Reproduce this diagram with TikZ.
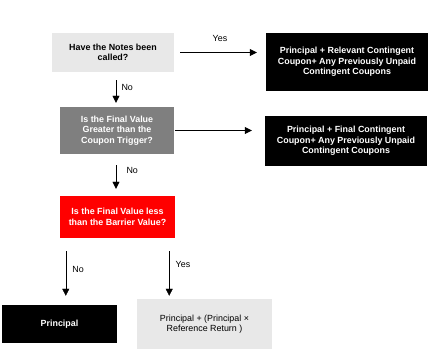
\documentclass[tikz,border=0pt]{standalone}
\usepackage{fontspec}
\setmainfont{Liberation Sans}
\usetikzlibrary{arrows.meta}
\definecolor{boxlight}{HTML}{E8E8E8}
\definecolor{boxgray}{HTML}{7F7F7F}

\tikzset{
	box/.style={inner sep=2pt, align=center, font=\fontsize{8.9}{10.4}\selectfont\bfseries},
	lightbox/.style={box, fill=boxlight, text=black},
	darkbox/.style={box, fill=black, text=white},
	arr/.style={-{Triangle[width=7pt,length=7pt]}, thin},
	lbl/.style={font=\fontsize{8.9}{10.4}\selectfont}
}

\begin{document}
\begin{tikzpicture}[x=1pt,y=-1pt]
		\useasboundingbox (0,0) rectangle (429,352);

		% Decision boxes
		\node[lightbox, minimum width=122pt, minimum height=39pt] (called) at (113,52.5) {Have the Notes been\\called?};
		\node[box, fill=boxgray, text=white, minimum width=114pt, minimum height=47pt] (trigger) at (117,130.5) {Is the Final Value\\Greater than the\\Coupon Trigger?};
		\node[box, fill=red, text=white, minimum width=115pt, minimum height=42pt] (barrier) at (117.5,217) {Is the Final Value less\\than the Barrier Value?};

		% Outcome boxes
		\node[darkbox, minimum width=162pt, minimum height=58pt] (relevant) at (347,62) {Principal + Relevant Contingent\\Coupon+ Any Previously Unpaid\\Contingent Coupons};
		\node[darkbox, minimum width=162pt, minimum height=50pt] (final) at (346,141) {Principal + Final Contingent\\Coupon+ Any Previously Unpaid\\Contingent Coupons};
		\node[darkbox, minimum width=115pt, minimum height=38pt] (principal) at (59.5,324) {Principal};
		\node[lightbox, font=\fontsize{8.9}{10.4}\selectfont, minimum width=135pt, minimum height=50pt] (refreturn) at (204.5,324) {Principal + (Principal ×\\Reference Return )};

		% Yes / No arrows
		\draw[arr, shorten <=6pt, shorten >=9pt] (called.east) -- (called.east -| relevant.west) node[midway, above=7pt, lbl] {Yes};
		\draw[arr, shorten <=8pt, shorten >=4pt] ([xshift=3pt]called.south) -- ([xshift=-1pt]trigger.north) node[pos=0.45, right=2pt, lbl] {No};
		\draw[arr, shorten <=1pt, shorten >=13pt] (trigger.east) -- (trigger.east -| final.west);
		\draw[arr, shorten <=11pt, shorten >=7pt] ([xshift=-1pt]trigger.south) -- ([xshift=-1pt]trigger.south |- barrier.north) node[pos=0.38, right=7pt, lbl] {No};
		\draw[arr, shorten <=13pt, shorten >=9pt] ([xshift=6pt]barrier.south west) -- ([xshift=6pt]barrier.south west |- principal.north) node[pos=0.47, right=3pt, lbl] {No};
		\draw[arr, shorten <=13pt, shorten >=3pt] ([xshift=-6pt]barrier.south east) -- ([xshift=-6pt]barrier.south east |- refreturn.north) node[pos=0.43, right=3pt, lbl] {Yes};

	\end{tikzpicture}
\end{document}
